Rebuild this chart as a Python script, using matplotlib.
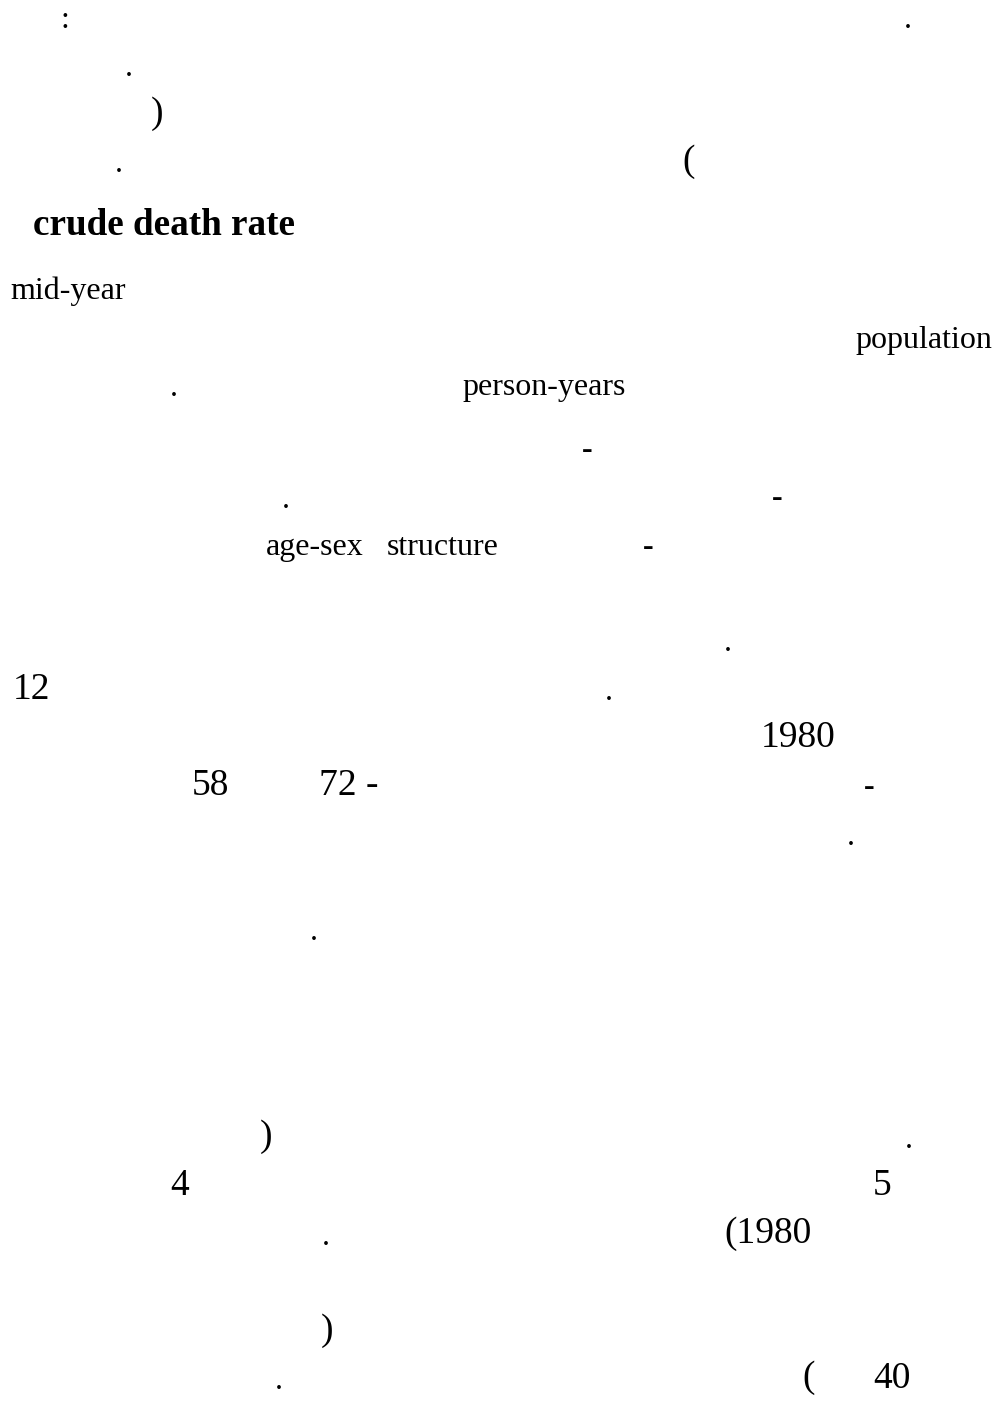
import matplotlib
matplotlib.use("Agg")
import matplotlib.pyplot as plt

plt.rcParams['font.family'] = ['Liberation Serif', 'DejaVu Serif']

W, H = 1000, 1404

# text fragments left on the page (the Arabic glyphs are not rendered)
words = [":", ".", ".", ")", ".", "(",
         "crude death rate",
         "mid-year", "population", ".", "person-years",
         "-", ".", "-", "age-sex", "structure", "-",
         ".", "12", ".", "1980",
         "58", "72 -", "-", ".",
         ".",
         ")", ".", "4", "5", ".", "(1980",
         ")", ".", "(", "40"]

# anchor x, baseline y (pixels from top-left), alignment
xs = [65, 908, 129, 157, 119, 689,
      33,
      10, 855, 174, 462,
      587, 286, 777, 266, 387, 648,
      728, 13, 609, 761,
      192, 319, 869, 851,
      314,
      266, 909, 170, 873, 326, 724,
      327, 279, 809, 873]
ys = [28, 28, 76, 123, 172, 171,
      235,
      299, 348, 396, 395,
      458, 508, 506, 555, 555, 555,
      651, 699, 700, 747,
      795, 795, 795, 845,
      940,
      1146, 1148, 1195, 1195, 1245, 1243,
      1340, 1389, 1387, 1388]
kinds = ["mark", "mark", "mark", "paren", "mark", "paren",
         "bold",
         "word", "word", "mark", "word",
         "dash", "mark", "dash", "word", "word", "dash",
         "mark", "num", "mark", "num",
         "num", "num", "dash", "mark",
         "mark",
         "paren", "mark", "num", "num", "mark", "num",
         "paren", "mark", "paren", "num"]

styles = {
    "word": dict(fontsize=23, ha="left"),
    "num": dict(fontsize=27, ha="left"),
    "bold": dict(fontsize=26.7, ha="left", fontweight="bold"),
    "mark": dict(fontsize=23, ha="center"),
    "dash": dict(fontsize=23, ha="center", fontweight="bold"),
    "paren": dict(fontsize=27, ha="center"),
}

fig = plt.figure(figsize=(W / 100, H / 100), dpi=100)
fig.patch.set_facecolor("white")

for s, x, y, k in zip(words, xs, ys, kinds):
    fig.text(x / W, 1 - y / H, s, va="baseline", color="black", **styles[k])

fig.savefig("out.png", dpi=100, facecolor="white")
